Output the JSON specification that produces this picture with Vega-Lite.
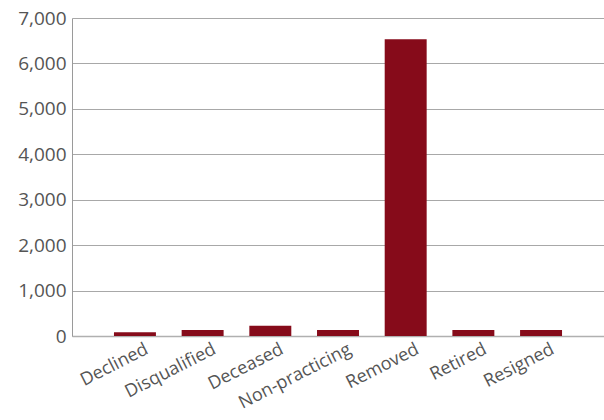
{
  "$schema": "https://vega.github.io/schema/vega-lite/v6.json",
  "width": 532,
  "height": 318,
  "autosize": {"type": "none"},
  "padding": {"left": 72, "top": 18, "right": 0, "bottom": 84},
  "background": "white",
  "data": {"values": [
    {"status": "Declined", "count": 85},
    {"status": "Disqualified", "count": 130},
    {"status": "Deceased", "count": 225},
    {"status": "Non-practicing", "count": 130},
    {"status": "Removed", "count": 6530},
    {"status": "Retired", "count": 130},
    {"status": "Resigned", "count": 130}
  ]},
  "mark": {"type": "bar", "color": "#860b1a"},
  "encoding": {
    "x": {
      "field": "status", "type": "nominal", "sort": null,
      "scale": {"paddingInner": 0.38, "paddingOuter": 0.62},
      "axis": {
        "title": null, "labelAngle": -27, "labelAlign": "right", "labelBaseline": "top",
        "labelFont": "Open Sans", "labelFontSize": 18, "labelColor": "#555555",
        "ticks": false, "domainColor": "#b0b0b0", "domainWidth": 1.5, "labelPadding": 4,
        "labelOffset": 8
      }
    },
    "y": {
      "field": "count", "type": "quantitative",
      "scale": {"domain": [0, 7000], "nice": false},
      "axis": {
        "title": null, "values": [0, 1000, 2000, 3000, 4000, 5000, 6000, 7000],
        "format": ",.0f", "labelFont": "Open Sans", "labelFontSize": 19, "labelColor": "#555555",
        "ticks": false, "labelPadding": 6, "domainColor": "#9a9a9a",
        "gridColor": "#a8a8a8", "gridWidth": 1
      }
    }
  },
  "config": {"view": {"stroke": null}}
}
